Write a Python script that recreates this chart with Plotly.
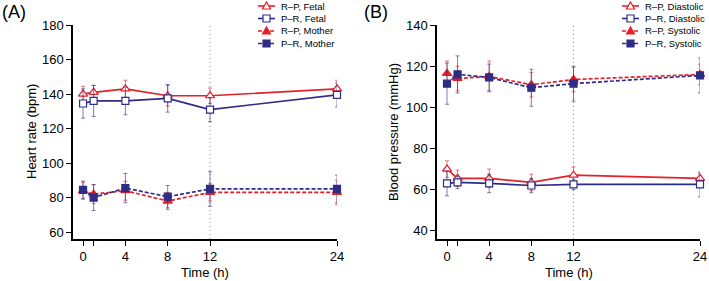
import plotly.graph_objects as go

time_h = [0, 1, 4, 8, 12, 24]
x_tick_vals = [0, 1, 4, 8, 12, 24]
x_tick_text = ["0", "", "4", "8", "12", "24"]

# Panel A: heart rate (bpm)
rp_fetal = [140, 141, 143, 139, 139, 143]
rp_fetal_err = [4.5, 4, 5, 6, 4.5, 5]
pr_fetal = [134.5, 136, 136, 137.5, 131, 139.5]
pr_fetal_err = [8.5, 9, 8, 8, 7, 7]
rp_mother = [84, 82, 84, 78, 83, 83]
rp_mother_err = [5, 5.5, 5.5, 5, 5, 7]
pr_mother = [84.5, 80, 85.5, 80.5, 85, 85]
pr_mother_err = [5, 7.5, 8.5, 6.5, 10, 8]

# Panel B: blood pressure (mmHg)
rp_dia = [70, 65.5, 65.5, 63.5, 67, 65.5]
rp_dia_err = [4, 4, 4.5, 4, 4, 2.5]
pr_dia = [63, 63.5, 63, 62, 62.5, 62.5]
pr_dia_err = [6, 3, 4.5, 3.5, 2.5, 6]
rp_sys = [116.5, 114, 115, 111, 113.5, 116]
rp_sys_err = [6, 6, 7.5, 6, 6, 5]
pr_sys = [111.5, 116, 114.5, 109.5, 111.5, 115.5]
pr_sys_err = [10, 9, 6.5, 9, 8.5, 8.5]

legend_a = ["R–P, Fetal", "P–R, Fetal", "R–P, Mother", "P–R, Mother"]
legend_b = ["R–P, Diastolic", "P–R, Diastolic", "R–P, Systolic", "P–R, Systolic"]

RED = "#e4202a"
BLUE = "#2f2c85"
RED_ERR = "rgba(228,32,42,0.6)"
BLUE_ERR = "rgba(47,44,133,0.6)"
DASH = "4px,2px"
FONT = "Liberation Sans, Arial, sans-serif"

W, H = 709, 281
fig = go.Figure()

styles = [
    (RED, RED_ERR, "triangle-up", True, "solid"),
    (BLUE, BLUE_ERR, "square", True, "solid"),
    (RED, RED_ERR, "triangle-up", False, DASH),
    (BLUE, BLUE_ERR, "square", False, DASH),
]


def add(name, y, err, style, xa, ya):
    color, ecolor, symbol, hollow, dash = style
    fig.add_trace(go.Scatter(
        x=time_h, y=y, name=name, mode="lines+markers", showlegend=False,
        xaxis=xa, yaxis=ya, cliponaxis=False,
        line=dict(color=color, width=1.7, dash=dash),
        marker=dict(symbol=symbol, size=7 if symbol == "square" else 8,
                    color="white" if hollow else color,
                    line=dict(color=color, width=1.2)),
        error_y=dict(type="data", array=err, visible=True, color=ecolor, thickness=1, width=2),
    ))


for name, y, e, st in zip(legend_a, [rp_fetal, pr_fetal, rp_mother, pr_mother],
                          [rp_fetal_err, pr_fetal_err, rp_mother_err, pr_mother_err], styles):
    add(name, y, e, st, "x", "y")
for name, y, e, st in zip(legend_b, [rp_dia, pr_dia, rp_sys, pr_sys],
                          [rp_dia_err, pr_dia_err, rp_sys_err, pr_sys_err], styles):
    add(name, y, e, st, "x2", "y2")

ydom = [1 - 239 / H, 1 - 25 / H]

axis_common = dict(
    showline=True, linecolor="black", linewidth=1.5, ticks="outside", ticklen=5,
    tickwidth=1.3, tickcolor="black", showgrid=False, zeroline=False, automargin=False,
    tickfont=dict(family=FONT, size=13, color="black"),
)

shapes = [
    dict(type="line", xref="x", yref="y domain", x0=12, x1=12, y0=0, y1=1,
         line=dict(color="#8a8a8a", width=1, dash="1px,3px"), layer="below"),
    dict(type="line", xref="x2", yref="y2 domain", x0=12, x1=12, y0=0, y1=1,
         line=dict(color="#8a8a8a", width=1, dash="1px,3px"), layer="below"),
]
annotations = [
    dict(text="(A)", xref="paper", yref="paper", x=0, y=1, xanchor="left",
         yanchor="top", showarrow=False, font=dict(size=18, family=FONT)),
    dict(text="(B)", xref="paper", yref="paper", x=362 / W, y=1, xanchor="left",
         yanchor="top", showarrow=False, font=dict(size=18, family=FONT)),
    dict(text="Time (h)", xref="paper", yref="paper", x=(73 + 337) / 2 / W, y=1 - 272 / H,
         xanchor="center", yanchor="middle", showarrow=False, font=dict(size=13, family=FONT)),
    dict(text="Time (h)", xref="paper", yref="paper", x=(437 + 700) / 2 / W, y=1 - 272 / H,
         xanchor="center", yanchor="middle", showarrow=False, font=dict(size=13, family=FONT)),
    dict(text="Heart rate (bpm)", xref="paper", yref="paper", x=31 / W, y=(ydom[0] + ydom[1]) / 2,
         xanchor="center", yanchor="middle", textangle=-90, showarrow=False,
         font=dict(size=13, family=FONT)),
    dict(text="Blood pressure (mmHg)", xref="paper", yref="paper", x=393 / W,
         y=(ydom[0] + ydom[1]) / 2, xanchor="center", yanchor="middle", textangle=-90,
         showarrow=False, font=dict(size=13, family=FONT)),
]

# manual compact legends (layout decoration)
rows_px = [6, 18.5, 31, 43.5]
for names, x_line0, x_line1, x_text in [(legend_a, 258, 275, 279), (legend_b, 622, 639, 643)]:
    xm = (x_line0 + x_line1) / 2 / W
    for name, ypx, st in zip(names, rows_px, styles):
        color, _, symbol, hollow, dash = st
        yp = 1 - ypx / H
        shapes.append(dict(type="line", xref="paper", yref="paper", x0=x_line0 / W, x1=x_line1 / W,
                           y0=yp, y1=yp, line=dict(color=color, width=1.6, dash=dash)))
        if symbol == "square":
            path = "M -3.5,-3.5 L 3.5,-3.5 L 3.5,3.5 L -3.5,3.5 Z"
        else:
            path = "M -4,-3 L 4,-3 L 0,4 Z"
        shapes.append(dict(type="path", xref="paper", yref="paper", xsizemode="pixel",
                           ysizemode="pixel", xanchor=xm, yanchor=yp, path=path,
                           fillcolor="white" if hollow else color,
                           line=dict(color=color, width=1.2)))
        annotations.append(dict(text=name, xref="paper", yref="paper", x=x_text / W, y=yp,
                                xanchor="left", yanchor="middle", showarrow=False,
                                font=dict(size=9.5, family=FONT)))

fig.update_layout(
    width=W, height=H, margin=dict(l=0, r=0, t=0, b=0, autoexpand=False),
    paper_bgcolor="white", plot_bgcolor="white", showlegend=False,
    font=dict(family=FONT, color="black"),
    xaxis=dict(domain=[73 / W, 337 / W], range=[-0.95, 24], tickvals=x_tick_vals,
               ticktext=x_tick_text, anchor="y", **axis_common),
    yaxis=dict(domain=ydom, range=[56, 180], tickvals=[60, 80, 100, 120, 140, 160, 180],
               anchor="x", **axis_common),
    xaxis2=dict(domain=[437 / W, 700 / W], range=[-0.95, 24], tickvals=x_tick_vals,
                ticktext=x_tick_text, anchor="y2", **axis_common),
    yaxis2=dict(domain=ydom, range=[36, 140], tickvals=[40, 60, 80, 100, 120, 140],
                anchor="x2", **axis_common),
    shapes=shapes,
    annotations=annotations,
)

fig.write_html(
    "out.html",
    config={"displayModeBar": False},
    post_script="document.body.style.margin='0';document.body.style.padding='0';"
                "document.body.style.overflow='hidden';",
)
